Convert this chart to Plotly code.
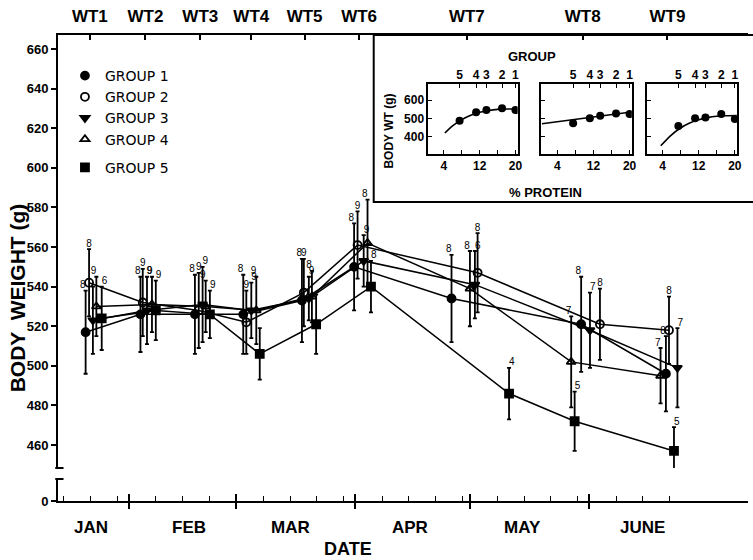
import plotly.graph_objects as go

# ---------------- data ----------------
wt_labels = ["WT1", "WT2", "WT3", "WT4", "WT5", "WT6", "WT7", "WT8", "WT9"]
wt_days = [20.8, 35.3, 49.6, 62.9, 76.8, 91.0, 119.1, 149.3, 171.4]   # day of year (Jan 1 = 0)

month_labels = ["JAN", "FEB", "MAR", "APR", "MAY", "JUNE"]
month_label_days = [21.2, 46.6, 73.1, 104.3, 133.6, 164.9]
month_starts = [31, 59, 90, 120, 151]
week_ticks = [14, 21, 28, 38, 45, 52, 66, 73, 80, 87, 97, 104, 111, 118,
              127, 134, 141, 148, 158, 165, 172]

g1_day = [19.7, 34.0, 48.2, 60.8, 76.1, 89.7, 115.1, 148.9, 171.0]
g2_day = [20.6, 34.6, 49.2, 61.6, 76.6, 90.6, 121.9, 153.8, 171.8]
g3_day = [21.6, 35.7, 50.2, 62.9, 77.9, 92.2, 121.2, 151.2, 174.0]
g4_day = [22.5, 37.0, 51.0, 64.2, 78.7, 93.2, 119.9, 146.3, 169.6]
g5_day = [23.9, 38.0, 52.1, 65.1, 79.8, 94.1, 130.1, 147.2, 173.1]

g1_wt = [517, 526, 526, 526, 533, 550, 534, 521, 496]
g2_wt = [542, 532, 528, 522, 537, 561, 547, 521, 518]
g3_wt = [523, 528, 531, 528, 534, 553, 541, 518, 499]
g4_wt = [530, 531, 530, 528, 535, 562, 539, 502, 495]
g5_wt = [524, 528, 526, 506, 521, 540, 486, 472, 457]

g1_sd = [21, 19, 20, 20, 21, 22, 22, 24, 19]
g2_sd = [17, 17, 19, 16, 17, 17, 20, 18, 17]
g3_sd = [17, 17, 19, 14, 11, 13, 17, 19, 20]
g4_sd = [15, 14, 13, 17, 13, 22, 19, 23, 14]
g5_sd = [16, 15, 12, 13, 15, 13, 13, 15, 12]

g1_n = ["8", "8", "8", "8", "8", "8", "8", "8", "8"]
g2_n = ["8", "9", "9", "9", "9", "9", "8", "8", "8"]
g3_n = ["", "9", "9", "9", "9", "9", "6", "7", "7"]
g4_n = ["9", "9", "9", "9", "8", "8", "8", "7", "7"]
g5_n = ["6", "9", "9", "", "", "8", "4", "5", "5"]

# inset data
group_ids = ["1", "2", "3", "4", "5"]
protein = [20, 17, 13.5, 11.2, 7.5]
inset_wt7 = [545, 555, 545, 533, 487]
inset_wt8 = [523, 527, 514, 500, 473]
inset_wt9 = [496, 523, 505, 500, 458]
curve7_x = [4.2, 6, 8, 10, 12, 14, 16, 18, 20.4]
curve7_y = [420, 460, 493, 517, 533, 543, 549, 551, 551]
line8_x = [0.6, 20.4]
line8_y = [470, 535]
curve9_x = [3.6, 6, 8, 10, 12, 14, 16, 18, 20.4]
curve9_y = [350, 410, 447, 474, 492, 504, 511, 514, 515]

# ---------------- figure ----------------
FONT = "Liberation Sans"
BLK = "black"

W, H = 753, 560
ML, MT, MB = 58, 35, 59
PW, PH = W - ML, H - MT - MB


def px_x(p):
    return (p - ML) / PW


def px_y(p):
    return (H - MB - p) / PH


fig = go.Figure()

groups = [
    ("GROUP 1", g1_day, g1_wt, g1_sd, g1_n, "circle", "a", "top left"),
    ("GROUP 2", g2_day, g2_wt, g2_sd, g2_n, "circle-open", "a", "top center"),
    ("GROUP 3", g3_day, g3_wt, g3_sd, g3_n, "triangle-down", "a", "top right"),
    ("GROUP 4", g4_day, g4_wt, g4_sd, g4_n, "triangle-up-open", "a", "top left"),
    ("GROUP 5", g5_day, g5_wt, g5_sd, g5_n, "square", "b", "top right"),
]

# connecting lines (x / y)
for name, d, v, s, n, sym, lg, tp in groups:
    fig.add_trace(go.Scatter(x=d, y=v, mode="lines", showlegend=False,
                             line=dict(color=BLK, width=1.5), hoverinfo="skip",
                             xaxis="x", yaxis="y"))
# markers with SD bars (x3 / y)
for name, d, v, s, n, sym, lg, tp in groups:
    fig.add_trace(go.Scatter(
        x=d, y=v, mode="markers", name=name, legendgroup=lg,
        marker=dict(symbol=sym, size=8, color=BLK, line=dict(color=BLK, width=1.8)),
        error_y=dict(type="data", array=s, color=BLK, thickness=1.8, width=2),
        xaxis="x3", yaxis="y"))
# n labels above the SD bars (x5 / y)
for name, d, v, s, n, sym, lg, tp in groups:
    fig.add_trace(go.Scatter(
        x=d, y=[a + b for a, b in zip(v, s)], mode="text", text=n, showlegend=False,
        textposition=tp, cliponaxis=False, hoverinfo="skip",
        textfont=dict(family=FONT, size=10, color=BLK), xaxis="x5", yaxis="y"))
# the short "0" segment of the broken axis carries no marks
fig.add_trace(go.Scatter(x=[None], y=[None], mode="markers", showlegend=False,
                         hoverinfo="skip", xaxis="x", yaxis="y2"))

# inset panels
panels = [(inset_wt7, curve7_x, curve7_y, "6", "9"),
          (inset_wt8, line8_x, line8_y, "7", "10"),
          (inset_wt9, curve9_x, curve9_y, "8", "11")]
for vals, cx, cy, ax, tax in panels:
    fig.add_trace(go.Scatter(x=cx, y=cy, mode="lines", showlegend=False,
                             line=dict(color=BLK, width=1.6, shape="spline"),
                             xaxis="x" + ax, yaxis="y" + ax))
    fig.add_trace(go.Scatter(x=protein, y=vals, mode="markers", showlegend=False,
                             marker=dict(symbol="circle", size=8, color=BLK),
                             xaxis="x" + tax, yaxis="y" + ax))

xr = [12.5, 192.4]
yr_main = [448.4, 667.1]
y_main_dom = [px_y(468), 1]
y_low_dom = [0, px_y(479)]

bold = dict(family=FONT, color=BLK, weight="bold")

layout = dict(
    width=W, height=H,
    margin=dict(l=ML, r=0, t=MT, b=MB),
    paper_bgcolor="white", plot_bgcolor="white",
    showlegend=True,
    legend=dict(x=px_x(65), y=px_y(60), xanchor="left", yanchor="top",
                bgcolor="rgba(0,0,0,0)", tracegroupgap=7,
                font=dict(family="DejaVu Sans", size=14, color=BLK)),
    xaxis=dict(anchor="y2", domain=[0, 1], range=xr, showline=True, linewidth=2,
               linecolor=BLK, showgrid=False, zeroline=False,
               tickmode="array", tickvals=month_starts, ticks="inside", ticklen=7,
               tickwidth=2, tickcolor=BLK, showticklabels=False,
               minor=dict(tickmode="array", tickvals=week_ticks, ticks="inside",
                          ticklen=5, tickwidth=1.3, tickcolor=BLK, showgrid=False)),
    xaxis3=dict(overlaying="x", anchor="y2", range=xr, showgrid=False, zeroline=False,
                tickmode="array", tickvals=month_starts, ticks="outside", ticklen=7,
                tickwidth=2, tickcolor=BLK, showticklabels=False),
    xaxis5=dict(overlaying="x", anchor="y", side="top", range=xr, showgrid=False,
                zeroline=False, showline=True, linewidth=2, linecolor=BLK,
                tickmode="array", tickvals=wt_days, ticktext=wt_labels, ticks="inside",
                ticklen=5, tickwidth=1.6, tickcolor=BLK, ticklabelstandoff=4,
                tickfont=dict(size=17, **bold)),
    yaxis=dict(anchor="x", domain=y_main_dom, range=yr_main, showline=True, linewidth=2,
               linecolor=BLK, showgrid=False, zeroline=False, tickmode="array",
               tickvals=[460, 480, 500, 520, 540, 560, 580, 600, 620, 640, 660],
               ticks="outside", ticklen=5, tickwidth=1.5, tickcolor=BLK,
               tickfont=dict(size=13, **bold)),
    yaxis2=dict(anchor="x", domain=y_low_dom, range=[0, 11], visible=True, showline=True,
                linewidth=2, linecolor=BLK, showgrid=False, zeroline=False,
                tickmode="array", tickvals=[0], ticks="outside", ticklen=5, tickwidth=1.5,
                tickcolor=BLK, tickfont=dict(size=13, **bold)),
)

panel_px = [(431, 521), (545, 636), (651, 742)]
inset_y_dom = [px_y(154), px_y(84.3)]
for i, (a, b) in enumerate(panel_px):
    k = str(6 + i)
    t = str(9 + i)
    dom = [px_x(a), px_x(b)]
    layout["xaxis" + k] = dict(domain=dom, anchor="y" + k, range=[0.5, 20.5],
                               showline=True, mirror=True, linewidth=1.6, linecolor=BLK,
                               showgrid=False, zeroline=False, tickmode="array",
                               tickvals=[4, 8, 12, 16, 20], ticktext=["4", "", "12", "", "20"],
                               ticks="inside", ticklen=4, tickwidth=1.3, tickcolor=BLK,
                               tickfont=dict(size=12, **bold))
    layout["yaxis" + k] = dict(domain=inset_y_dom, anchor="x" + k, range=[305, 686],
                               showline=True, mirror=True, linewidth=1.6, linecolor=BLK,
                               showgrid=False, zeroline=False, tickmode="array",
                               tickvals=[400, 500, 600], ticks="inside", ticklen=4,
                               tickwidth=1.3, tickcolor=BLK, showticklabels=(i == 0),
                               tickfont=dict(size=12, **bold))
    layout["xaxis" + t] = dict(overlaying="x" + k, anchor="y" + k, side="top",
                               range=[0.5, 20.5], showgrid=False, zeroline=False,
                               tickmode="array", tickvals=protein, ticktext=group_ids,
                               ticks="inside", ticklen=4, tickwidth=1.3, tickcolor=BLK,
                               ticklabelstandoff=2, tickfont=dict(size=12, **bold))

fig.update_layout(**layout)

# inset frame (white box behind the inset panels) and axis break marks
fig.add_shape(type="rect", xref="paper", yref="paper", x0=px_x(376), x1=1.01,
              y0=px_y(202), y1=1.0, line=dict(color=BLK, width=2),
              fillcolor="white", layer="below")
fig.add_shape(type="line", xref="paper", yref="y domain", x0=-0.004, x1=0.008,
              y0=0, y1=0, line=dict(color=BLK, width=2))
fig.add_shape(type="line", xref="paper", yref="y2 domain", x0=-0.004, x1=0.008,
              y0=1, y1=1, line=dict(color=BLK, width=2))

# month names centred under each month
for lab, d in zip(month_labels, month_label_days):
    fig.add_annotation(xref="x", yref="paper", x=d, y=px_y(527), text=lab,
                       xanchor="center", yanchor="middle",
                       showarrow=False, font=dict(size=17, **bold))

ann = [
    dict(text="DATE", x=px_x(350), y=px_y(549), font=dict(size=18, **bold)),
    dict(text="BODY  WEIGHT (g)", x=px_x(17), y=px_y(298), textangle=-90,
         font=dict(size=21, **bold)),
    dict(text="GROUP", x=px_x(535), y=px_y(57), font=dict(size=13, **bold)),
    dict(text="% PROTEIN", x=px_x(549), y=px_y(192), font=dict(size=13, **bold)),
    dict(text="BODY WT (g)", x=px_x(391), y=px_y(131), textangle=-90,
         font=dict(size=12, **bold)),
]
for a in ann:
    fig.add_annotation(xref="paper", yref="paper", showarrow=False,
                       xanchor="center", yanchor="middle", **a)

fig.write_html("out.html")
